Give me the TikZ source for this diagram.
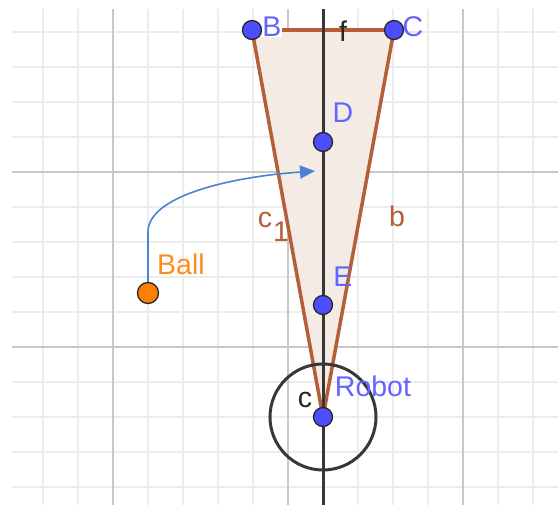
\documentclass[tikz,border=0pt]{standalone}
\usepackage{fontspec}
\setmainfont{Liberation Sans}
\usetikzlibrary{arrows.meta}
\definecolor{ptblue}{RGB}{77,77,255}
\definecolor{lblblue}{RGB}{100,100,255}
\definecolor{segbrown}{RGB}{180,95,55}
\definecolor{trifill}{RGB}{244,235,229}
\definecolor{ballorange}{RGB}{255,127,0}
\definecolor{lblorange}{RGB}{255,140,30}
\definecolor{arrowblue}{RGB}{74,128,214}
\definecolor{minorgrid}{RGB}{236,236,236}
\definecolor{majorgrid}{RGB}{200,200,200}
\definecolor{darkline}{RGB}{55,55,55}
\tikzset{
  pt/.style={circle, draw=black!85, line width=1.3pt, fill=ptblue, minimum size=19pt, inner sep=0pt},
  ballpt/.style={circle, draw=black!85, line width=1.3pt, fill=ballorange, minimum size=21pt, inner sep=0pt},
  lbl/.style={anchor=base, inner sep=0.5pt, font=\fontsize{28.5}{30}\selectfont},
  bluelbl/.style={lbl, text=lblblue},
  seg/.style={draw=segbrown, line width=3.5pt},
}
\begin{document}
\begin{tikzpicture}[x=1pt,y=-1pt]
\useasboundingbox (0,0) rectangle (558,505);
\fill[white] (0,0) rectangle (558,505);
% grid
\foreach \x in {43,78,148,183,218,253,323,358,393,428,498,533}
  \draw[minorgrid, line width=1.3pt] (\x,9) -- (\x,505);
\foreach \y in {32,67,102,137,207,242,277,312,382,417,452,487}
  \draw[minorgrid, line width=1.3pt] (12,\y) -- (558,\y);
\foreach \x in {113,288,463}
  \draw[majorgrid, line width=1.5pt] (\x,9) -- (\x,505);
\foreach \y in {172,347}
  \draw[majorgrid, line width=1.5pt] (12,\y) -- (558,\y);
% coordinates
\coordinate (Bc) at (252,30);
\coordinate (Cc) at (394,30);
\coordinate (Rc) at (323,417);
\coordinate (ftop) at (323,9);
\coordinate (fbot) at (323,505);
\coordinate (tipend) at (315,171);
% triangle
\fill[trifill] (Bc) -- (Cc) -- (Rc) -- cycle;
\draw[seg] (Bc) -- (Cc);
\draw[seg] (Cc) -- (Rc);
\draw[seg] (Rc) -- (Bc);
% line f
\draw[darkline, line width=3pt] (ftop) -- (fbot);
% circle c
\draw[darkline, line width=3pt] (Rc) circle[radius=53];
% points
\node[pt] (B) at (Bc) {};
\node[pt] (C) at (Cc) {};
\node[pt] (D) at (323,142) {};
\node[pt] (E) at (323,305) {};
\node[pt] (Robot) at (Rc) {};
\node[ballpt] (Ball) at (148,293) {};
% arrow
\draw[arrowblue, line width=1.6pt, -{Triangle[length=15pt,width=13pt]}]
  (Ball.north) -- (148,232) .. controls (148,196) and (230,177) .. (tipend);
% labels
\node[bluelbl, fill=white] (lB) at (272,37) {B};
\node[bluelbl] (lC) at (413,37) {C};
\node[bluelbl] (lD) at (343,123) {D};
\node[bluelbl] (lE) at (343,287) {E};
\node[bluelbl] (lR) at (373,397) {Robot};
\node[lbl, text=lblorange] (lBall) at (181,275) {Ball};
\node[lbl, text=black!85] (lf) at (343,42) {f};
\node[lbl, text=black!85] (lc) at (305,408) {c};
\node[lbl, text=segbrown] (lb) at (397,227) {b};
\node[lbl, text=segbrown] (lc1) at (265,228) {c};
\node[lbl, text=segbrown] (lc1s) at (281,242) {1};
\end{tikzpicture}
\end{document}
